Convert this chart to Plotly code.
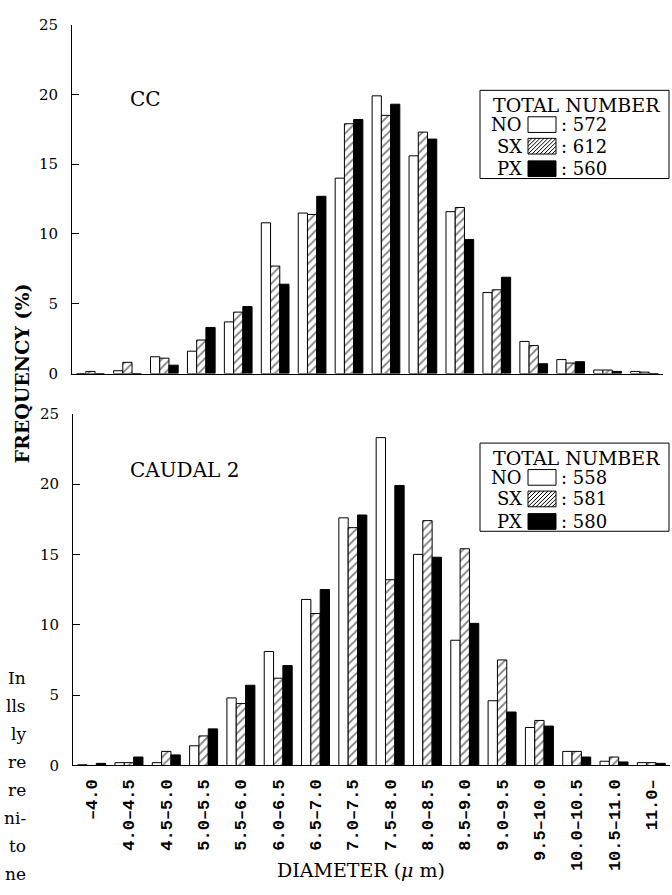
import plotly.graph_objects as go

# ---------------- data ----------------
categories = ["–4.0", "4.0–4.5", "4.5–5.0", "5.0–5.5", "5.5–6.0", "6.0–6.5",
              "6.5–7.0", "7.0–7.5", "7.5–8.0", "8.0–8.5", "8.5–9.0", "9.0–9.5",
              "9.5–10.0", "10.0–10.5", "10.5–11.0", "11.0–"]

cc_no = [0, 0.2, 1.2, 1.6, 3.7, 10.8, 11.5, 14.0, 19.9, 15.6, 11.6, 5.8, 2.3, 1.0, 0.25, 0.15]
cc_sx = [0.15, 0.8, 1.1, 2.4, 4.4, 7.7, 11.4, 17.9, 18.5, 17.3, 11.9, 6.0, 2.0, 0.75, 0.25, 0.1]
cc_px = [0, 0, 0.6, 3.3, 4.8, 6.4, 12.7, 18.2, 19.3, 16.8, 9.6, 6.9, 0.7, 0.85, 0.15, 0]

ca_no = [0.05, 0.2, 0.2, 1.4, 4.8, 8.1, 11.8, 17.6, 23.3, 15.0, 8.9, 4.6, 2.7, 1.0, 0.3, 0.2]
ca_sx = [0, 0.2, 1.0, 2.1, 4.4, 6.2, 10.8, 16.9, 13.2, 17.4, 15.4, 7.5, 3.2, 1.0, 0.6, 0.2]
ca_px = [0.15, 0.6, 0.75, 2.6, 5.7, 7.1, 12.5, 17.8, 19.9, 14.8, 10.1, 3.8, 2.8, 0.6, 0.25, 0.15]

series_names = ["NO", "SX", "PX"]
cc_totals = [572, 612, 560]
ca_totals = [558, 581, 580]
y_ticks = [0, 5, 10, 15, 20, 25]

side_text = ["In", "lls", "ly", "re", "re", "ni-", "to", "ne"]

# ---------------- geometry helpers ----------------
W, H = 672, 895


def fx(x):
    return x / W


def fy(y):
    return 1 - y / H


SERIF = "DejaVu Serif"
MONO = "Liberation Mono"

styles = {
    "NO": dict(color="white", line=dict(color="black", width=1)),
    "SX": dict(color="white", line=dict(color="black", width=1),
               pattern=dict(shape="/", fgcolor="black", bgcolor="white", size=6, solidity=0.3)),
    "PX": dict(color="black", line=dict(color="black", width=1)),
}

fig = go.Figure()
for name, vals in zip(series_names, [cc_no, cc_sx, cc_px]):
    fig.add_trace(go.Bar(x=categories, y=vals, name=name, marker=styles[name],
                         xaxis="x", yaxis="y", showlegend=False))
for name, vals in zip(series_names, [ca_no, ca_sx, ca_px]):
    fig.add_trace(go.Bar(x=categories, y=vals, name=name, marker=styles[name],
                         xaxis="x2", yaxis="y2", showlegend=False))

yaxis_common = dict(range=[0, 25], tickvals=y_ticks, ticks="inside", ticklen=7,
                    tickcolor="black", showline=True, linecolor="black", linewidth=1,
                    showgrid=False, zeroline=False, ticklabelstandoff=10,
                    tickfont=dict(family=SERIF, size=15, color="black"))

fig.update_layout(
    width=W, height=H, autosize=False,
    margin=dict(l=0, r=0, t=0, b=0),
    paper_bgcolor="white", plot_bgcolor="white",
    barmode="group", bargap=0.25, bargroupgap=0,
    xaxis=dict(domain=[fx(72), fx(663)], anchor="y", showticklabels=False,
               showline=True, linecolor="black", linewidth=1, ticks="",
               showgrid=False, zeroline=False),
    yaxis=dict(domain=[fy(372), fy(16)], anchor="x", **yaxis_common),
    xaxis2=dict(domain=[fx(73), fx(670)], anchor="y2", tickangle=-90,
                showline=True, linecolor="black", linewidth=1, ticks="",
                showgrid=False, zeroline=False, ticklabelstandoff=6,
                tickfont=dict(family=MONO, size=17, color="black", weight="bold")),
    yaxis2=dict(domain=[fy(772), fy(413)], anchor="x2", **yaxis_common),
)

annotations = []
shapes = []


def ann(text, x, y, size=18, xanchor="center", family=SERIF, weight="normal", angle=0):
    annotations.append(dict(text=text, x=fx(x), y=fy(y), xref="paper", yref="paper",
                            xanchor=xanchor, yanchor="middle", showarrow=False,
                            textangle=angle,
                            font=dict(family=family, size=size, color="black", weight=weight)))


# panel labels
ann("CC", 128, 92, size=20, xanchor="left")
ann("CAUDAL 2", 128, 470, size=20, xanchor="left")

# axis titles
ann("FREQUENCY (%)", 22, 372, size=19, weight="bold", angle=-90)
ann("DIAMETER (<i>μ</i> m)", 361, 879, size=19)

# neighbouring page text fragments at the left edge
for i, t in enumerate(side_text):
    ann(t, 28, 683 + i * 28.6, size=17, xanchor="right")


def rect(x0, y0, x1, y1, fill="white", width=1):
    shapes.append(dict(type="rect", xref="paper", yref="paper",
                       x0=fx(x0), x1=fx(x1), y0=fy(y1), y1=fy(y0),
                       line=dict(color="black", width=width), fillcolor=fill, layer="above"))


def hatch(x0, y0, x1, y1, step=4):
    c = x0 + y0 + step
    while c < x1 + y1:
        xa = max(x0, c - y1)
        xb = min(x1, c - y0)
        if xb > xa:
            shapes.append(dict(type="line", xref="paper", yref="paper",
                               x0=fx(xa), y0=fy(c - xa), x1=fx(xb), y1=fy(c - xb),
                               line=dict(color="black", width=1), layer="above"))
        c += step


def legend_box(top, totals):
    left, right = 480, 669
    rect(left, top, right, top + 90)
    ann("TOTAL NUMBER", (left + right) / 2 + 2, top + 15, size=19)
    rows = [top + 35, top + 57, top + 80]
    for name, tot, yc in zip(series_names, totals, rows):
        ann(name, 524, yc, size=18, xanchor="right")
        sx0, sx1 = 528, 556
        sy0, sy1 = yc - 8, yc + 8
        if name == "NO":
            rect(sx0, sy0, sx1, sy1, fill="white")
        elif name == "SX":
            rect(sx0, sy0, sx1, sy1, fill="white")
            hatch(sx0, sy0, sx1, sy1)
        else:
            rect(sx0, sy0, sx1, sy1, fill="black")
        ann(": %d" % tot, 559, yc, size=18, xanchor="left")


legend_box(83, cc_totals)
legend_box(443, ca_totals)

fig.update_layout(annotations=annotations, shapes=shapes)
fig.write_html("out.html")
